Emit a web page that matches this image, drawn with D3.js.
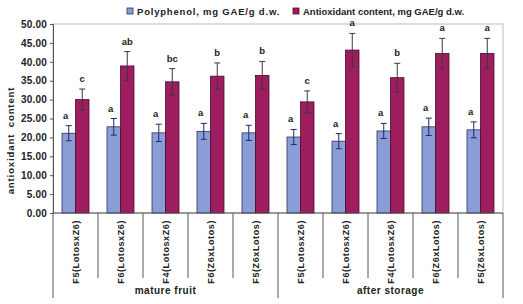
<!DOCTYPE html>
<html>
<head>
<meta charset="utf-8">
<script src="https://cdn.jsdelivr.net/npm/d3@7"></script>
<style>
  body { margin: 0; background: #fff; }
  text { font-family: "Liberation Sans", Arial, sans-serif; font-weight: bold; fill: #222; }
</style>
</head>
<body>
<div id="chart"></div>
<script>
// data
var categories = ["F5(LotosxZ6)", "F6(LotosxZ6)", "F4(LotosxZ6)", "F6(Z6xLotos)", "F5(Z6xLotos)",
                  "F5(LotosxZ6)", "F6(LotosxZ6)", "F4(LotosxZ6)", "F6(Z6xLotos)", "F5(Z6xLotos)"];
var groups = ["mature fruit", "after storage"];
var seriesNames = ["Polyphenol, mg GAE/g d.w.", "Antioxidant content, mg GAE/g d.w."];
var polyphenol = [21.1, 22.8, 21.2, 21.6, 21.2, 20.1, 19.0, 21.7, 22.8, 22.0];
var polyErr    = [2.0, 2.2, 2.3, 2.1, 2.0, 2.0, 2.0, 2.0, 2.3, 2.1];
var antiox     = [30.0, 38.9, 34.7, 36.2, 36.4, 29.4, 43.1, 35.8, 42.2, 42.2];
var antiErr    = [2.8, 3.8, 3.5, 3.5, 3.7, 2.9, 4.4, 3.8, 4.0, 4.0];
var polyLetters = ["a", "a", "a", "a", "a", "a", "a", "a", "a", "a"];
var antiLetters = ["c", "ab", "bc", "b", "b", "c", "a", "b", "a", "a"];
var yTicks = [0, 5, 10, 15, 20, 25, 30, 35, 40, 45, 50];

var colors = ["#8b9dd6", "#9e1d5e"];
var strokes = ["#2b3366", "#4a0d2c"];

var W = 523, H = 304;
var margin = {left: 53, top: 24, right: 20, bottom: 91};
var w = W - margin.left - margin.right, h = H - margin.top - margin.bottom;

var svg = d3.select("#chart").append("svg")
    .attr("width", W).attr("height", H);
var g = svg.append("g")
    .attr("transform", "translate(" + margin.left + "," + margin.top + ")");

var x0 = d3.scaleBand().domain(d3.range(categories.length)).range([0, w]);
var x1 = d3.scaleBand().domain([0, 1])
    .range([x0.bandwidth() * 0.2, x0.bandwidth() * 0.8]);
var y = d3.scaleLinear().domain([0, 50]).range([h, 0]);

// plot frame
g.append("rect").attr("width", w).attr("height", h)
  .attr("fill", "none").attr("stroke", "#bbb").attr("stroke-width", 1);

// y axis
var yAxis = g.append("g")
  .call(d3.axisLeft(y).tickValues(yTicks).tickFormat(d3.format(".2f")).tickSize(3).tickPadding(3));
yAxis.select(".domain").attr("stroke", "#555");
yAxis.selectAll(".tick line").attr("stroke", "#555");
yAxis.selectAll("text").style("font-size", "10px").style("letter-spacing", "0.2px").attr("fill", "#222");

svg.append("text")
  .attr("transform", "translate(14," + (margin.top + h / 2 + 22) + ") rotate(-90)")
  .attr("text-anchor", "middle").style("font-size", "9.5px")
  .style("letter-spacing", "0.9px").style("word-spacing", "3px")
  .text("antioxidant content");

// bars
var series = [
  {vals: polyphenol, err: polyErr, letters: polyLetters},
  {vals: antiox, err: antiErr, letters: antiLetters}
];
series.forEach(function (s, si) {
  var cg = g.append("g");
  var data = s.vals.map(function (v, i) { return {i: i, v: v, e: s.err[i], l: s.letters[i]}; });
  cg.selectAll("rect").data(data).enter().append("rect")
    .attr("x", function (d) { return x0(d.i) + x1(si); })
    .attr("width", x1.bandwidth())
    .attr("y", function (d) { return y(d.v); })
    .attr("height", function (d) { return h - y(d.v); })
    .attr("fill", colors[si]).attr("stroke", strokes[si]).attr("stroke-width", 0.8);
  var cx = function (d) { return x0(d.i) + x1(si) + x1.bandwidth() / 2; };
  var eb = cg.selectAll("g.err").data(data).enter().append("g")
    .attr("stroke", si == 0 ? "#1f2a66" : "#3a3a3a").attr("stroke-width", 1);
  eb.append("line").attr("x1", cx).attr("x2", cx)
    .attr("y1", function (d) { return y(d.v - d.e); })
    .attr("y2", function (d) { return y(d.v + d.e); });
  eb.append("line").attr("x1", function (d) { return cx(d) - 3; }).attr("x2", function (d) { return cx(d) + 3; })
    .attr("y1", function (d) { return y(d.v + d.e); }).attr("y2", function (d) { return y(d.v + d.e); });
  eb.append("line").attr("x1", function (d) { return cx(d) - 3; }).attr("x2", function (d) { return cx(d) + 3; })
    .attr("y1", function (d) { return y(d.v - d.e); }).attr("y2", function (d) { return y(d.v - d.e); });
  cg.selectAll("text").data(data).enter().append("text")
    .attr("x", function (d) { return cx(d) - (si == 0 ? 3 : 0); })
    .attr("y", function (d) { return y(d.v + d.e) - 7; })
    .attr("text-anchor", "middle").style("font-size", "9.5px")
    .text(function (d) { return d.l; });
});

// x axis: baseline, separators and labels
var ax = g.append("g").attr("transform", "translate(0," + h + ")");
ax.append("line").attr("x1", 0).attr("x2", w).attr("stroke", "#555");
d3.range(categories.length + 1).forEach(function (i) {
  var xx = i < categories.length ? x0(i) : w;
  var long = (i % 5 == 0);
  ax.append("line").attr("x1", xx).attr("x2", xx)
    .attr("y1", 0).attr("y2", long ? 85 : 65)
    .attr("stroke", "#555");
});
ax.selectAll("text.cat").data(categories).enter().append("text")
  .attr("class", "cat")
  .attr("transform", function (d, i) {
    return "translate(" + (x0(i) + x0.bandwidth() / 2 + 3.5) + ",7) rotate(-90)";
  })
  .attr("text-anchor", "end").style("font-size", "9px").style("letter-spacing", "0.6px")
  .text(function (d) { return d; });
ax.selectAll("text.grp").data(groups).enter().append("text")
  .attr("class", "grp")
  .attr("x", function (d, i) { return x0(i * 5) + x0.bandwidth() * 2.5; })
  .attr("y", 81).attr("text-anchor", "middle").style("font-size", "10px")
  .style("letter-spacing", "0.5px")
  .text(function (d) { return d; });

// legend
var legX = [127, 293];
seriesNames.forEach(function (n, i) {
  var lg = svg.append("g").attr("transform", "translate(" + legX[i] + ",8)");
  lg.append("rect").attr("width", 6).attr("height", 6)
    .attr("fill", colors[i]).attr("stroke", strokes[i]).attr("stroke-width", 0.8);
  lg.append("text").attr("x", 10).attr("y", 6.5).style("font-size", "9.5px")
    .style("letter-spacing", i == 0 ? "0.8px" : "0px").text(n);
});
</script>
</body>
</html>
